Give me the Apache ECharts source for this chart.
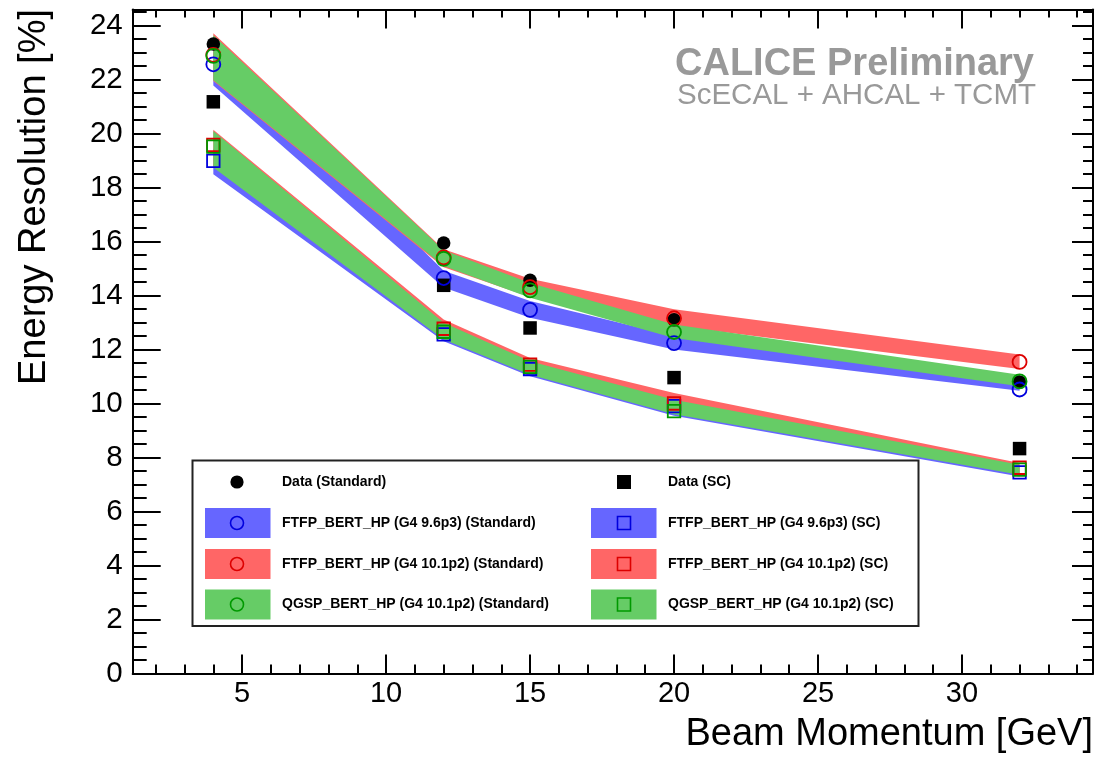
<!DOCTYPE html>
<html>
<head>
<meta charset="utf-8">
<script src="https://cdn.jsdelivr.net/npm/echarts@6/dist/echarts.min.js"></script>
<style>
  html, body { margin: 0; padding: 0; background: #fff; }
  #chart { width: 1101px; height: 757px; }
</style>
</head>
<body>
<div id="chart"></div>
<script>
// Beam momenta [GeV]
const energies = [4, 12, 15, 20, 32];

// Measured energy resolution [%]
const dataStd = [23.32, 15.95, 14.57, 13.10, 10.80];
const dataSC  = [21.18, 14.38, 12.80, 10.96, 8.33];

// Simulation central values, standard reconstruction
const ftfp96Std  = [22.57, 14.65, 13.47, 12.24, 10.52];
const ftfp101Std = [22.92, 15.41, 14.31, 13.16, 11.54];
const qgspStd    = [22.88, 15.36, 14.19, 12.65, 10.82];

// Simulation central values, software compensation
const ftfp96SC  = [18.99, 12.56, 11.28, 9.90, 7.45];
const ftfp101SC = [19.58, 12.77, 11.44, 10.00, 7.62];
const qgspSC    = [19.52, 12.66, 11.36, 9.72, 7.55];

// Systematic bands (lower / upper edge), standard reconstruction
const ftfp96StdLo  = [21.78, 14.30, 13.18, 12.00, 10.47];
const ftfp96StdHi  = [23.35, 14.92, 13.80, 12.50, 10.92];
const ftfp101StdLo = [21.95, 15.05, 13.95, 12.87, 11.28];
const ftfp101StdHi = [23.72, 15.72, 14.62, 13.49, 11.82];
const qgspStdLo    = [21.98, 15.10, 13.92, 12.43, 10.64];
const qgspStdHi    = [23.65, 15.68, 14.47, 12.93, 11.07];

// Systematic bands (lower / upper edge), software compensation
const ftfp96SCLo  = [18.50, 12.31, 11.01, 9.55, 7.30];
const ftfp96SCHi  = [19.45, 12.90, 11.50, 10.05, 7.70];
const ftfp101SCLo = [18.80, 12.45, 11.10, 9.75, 7.40];
const ftfp101SCHi = [20.14, 13.11, 11.69, 10.39, 7.80];
const qgspSCLo    = [18.75, 12.37, 11.07, 9.60, 7.36];
const qgspSCHi    = [20.10, 12.99, 11.57, 10.14, 7.73];

// Axis ticks
const xMajor = [5, 10, 15, 20, 25, 30];
const xMinor = [2, 3, 4, 6, 7, 8, 9, 11, 12, 13, 14, 16, 17, 18, 19, 21, 22, 23, 24, 26, 27, 28, 29, 31, 32, 33, 34];
const yMajor = [0, 2, 4, 6, 8, 10, 12, 14, 16, 18, 20, 22, 24];
const yMinor = [];
for (let v = 0.5; v < 24.6; v += 0.5) { if (v % 2 !== 0) yMinor.push(v); }

const X_MIN = 1.2, X_MAX = 34.55, Y_MIN = 0, Y_MAX = 24.6;

const FONT = '"Liberation Sans", Arial, Helvetica, sans-serif';

const BLUE_FILL = 'rgb(102,102,255)';
const RED_FILL = 'rgb(255,102,102)';
const GREEN_FILL = 'rgb(102,204,102)';
const BLUE_LINE = '#0000dd';
const RED_LINE = '#dd0000';
const GREEN_LINE = '#009900';

const names = {
  dataStd: 'Data (Standard)',
  dataSC: 'Data (SC)',
  f96Std: 'FTFP_BERT_HP (G4 9.6p3) (Standard)',
  f101Std: 'FTFP_BERT_HP (G4 10.1p2) (Standard)',
  qStd: 'QGSP_BERT_HP (G4 10.1p2) (Standard)',
  f96SC: 'FTFP_BERT_HP (G4 9.6p3) (SC)',
  f101SC: 'FTFP_BERT_HP (G4 10.1p2) (SC)',
  qSC: 'QGSP_BERT_HP (G4 10.1p2) (SC)'
};

// Filled band between lower and upper edge, built through the axis scales
function band(name, lo, hi, fill) {
  const n = energies.length;
  const xs = [], ys = [];
  for (let i = 0; i < n; i++) xs.push(i);
  for (let i = n; i < 3 * n; i++) ys.push(i);
  return {
    type: 'custom',
    name: name + ' band',
    silent: true,
    encode: { x: xs, y: ys },
    data: [{ value: energies.concat(lo, hi) }],
    renderItem: function (params, api) {
      const top = [], bottom = [];
      for (let i = 0; i < n; i++) {
        const x = api.value(i);
        bottom.push(api.coord([x, api.value(n + i)]));
        top.push(api.coord([x, api.value(2 * n + i)]));
      }
      return {
        type: 'polygon',
        shape: { points: top.concat(bottom.reverse()) },
        style: { fill: fill, stroke: null }
      };
    }
  };
}

function markers(name, values, symbol, size, color, border) {
  return {
    type: 'scatter',
    name: name,
    symbol: symbol,
    symbolSize: size,
    data: energies.map((e, i) => [e, values[i]]),
    itemStyle: border
      ? { color: 'rgba(0,0,0,0)', borderColor: color, borderWidth: 1.8, opacity: 1 }
      : { color: color, opacity: 1 },
    emphasis: { disabled: true }
  };
}

function xAxisDef(position, ticks, len, showLine, showLabel) {
  return {
    type: 'value', min: X_MIN, max: X_MAX, position: position,
    axisLine: { show: showLine, onZero: false, lineStyle: { color: '#000', width: 2 } },
    axisTick: { show: true, inside: true, length: len, customValues: ticks, lineStyle: { color: '#000', width: 2 } },
    axisLabel: { show: showLabel, customValues: ticks, color: '#000', fontSize: 29, fontFamily: FONT, margin: 6 },
    splitLine: { show: false }
  };
}
function yAxisDef(position, ticks, len, showLine, showLabel) {
  return {
    type: 'value', min: Y_MIN, max: Y_MAX, position: position,
    axisLine: { show: showLine, onZero: false, lineStyle: { color: '#000', width: 2 } },
    axisTick: { show: true, inside: true, length: len, customValues: ticks, lineStyle: { color: '#000', width: 2 } },
    axisLabel: { show: showLabel, customValues: ticks, color: '#000', fontSize: 29.5, fontFamily: FONT, margin: 10 },
    splitLine: { show: false }
  };
}

// Legend drawn as a two-column box
const legendRows = [482, 523, 564, 604.5];
const legendCols = [
  { sym: 237, swatch: 205, text: 282 },
  { sym: 624, swatch: 591, text: 668 }
];
const legendEntries = [
  [
    { label: names.dataStd, kind: 'dot' },
    { label: names.f96Std, kind: 'circle', fill: BLUE_FILL, line: BLUE_LINE },
    { label: names.f101Std, kind: 'circle', fill: RED_FILL, line: RED_LINE },
    { label: names.qStd, kind: 'circle', fill: GREEN_FILL, line: GREEN_LINE }
  ],
  [
    { label: names.dataSC, kind: 'block' },
    { label: names.f96SC, kind: 'square', fill: BLUE_FILL, line: BLUE_LINE },
    { label: names.f101SC, kind: 'square', fill: RED_FILL, line: RED_LINE },
    { label: names.qSC, kind: 'square', fill: GREEN_FILL, line: GREEN_LINE }
  ]
];

const graphics = [
  {
    type: 'rect', z: 100,
    shape: { x: 192.5, y: 460.5, width: 726, height: 165.5 },
    style: { fill: '#fff', stroke: '#222', lineWidth: 2 }
  }
];
legendEntries.forEach((col, c) => {
  const L = legendCols[c];
  col.forEach((e, r) => {
    const cy = legendRows[r];
    if (e.fill) {
      graphics.push({ type: 'rect', z: 101, shape: { x: L.swatch, y: cy - 15, width: 65.5, height: 30 }, style: { fill: e.fill } });
    }
    if (e.kind === 'dot') {
      graphics.push({ type: 'circle', z: 102, shape: { cx: L.sym, cy: cy, r: 6.6 }, style: { fill: '#000' } });
    } else if (e.kind === 'block') {
      graphics.push({ type: 'rect', z: 102, shape: { x: L.sym - 7, y: cy - 7, width: 14, height: 14 }, style: { fill: '#000' } });
    } else if (e.kind === 'circle') {
      graphics.push({ type: 'circle', z: 102, shape: { cx: L.sym, cy: cy, r: 6.5 }, style: { fill: 'none', stroke: e.line, lineWidth: 1.6 } });
    } else {
      graphics.push({ type: 'rect', z: 102, shape: { x: L.sym - 6.5, y: cy - 6.5, width: 13, height: 13 }, style: { fill: 'none', stroke: e.line, lineWidth: 1.6 } });
    }
    graphics.push({
      type: 'text', z: 102, x: L.text, y: cy,
      style: { text: e.label, font: 'bold 14px ' + FONT, fill: '#000', textAlign: 'left', textVerticalAlign: 'middle', align: 'left', verticalAlign: 'middle' }
    });
  });
});

// Axis titles and labels
graphics.push({
  type: 'text', z: 50, x: 35, y: 9, rotation: Math.PI / 2,
  style: { text: 'Energy Resolution [%]', font: '38px ' + FONT, fill: '#000', textAlign: 'right', textVerticalAlign: 'middle', align: 'right', verticalAlign: 'middle' }
});
graphics.push({
  type: 'text', z: 50, x: 1093, y: 735,
  style: { text: 'Beam Momentum [GeV]', font: '38px ' + FONT, fill: '#000', textAlign: 'right', textVerticalAlign: 'middle', align: 'right', verticalAlign: 'middle' }
});
graphics.push({
  type: 'text', z: 50, x: 675, y: 65,
  style: { text: 'CALICE Preliminary', font: 'bold 38px ' + FONT, fill: '#999999', textAlign: 'left', textVerticalAlign: 'middle', align: 'left', verticalAlign: 'middle' }
});
graphics.push({
  type: 'text', z: 50, x: 677, y: 96,
  style: { text: 'ScECAL + AHCAL + TCMT', font: '29.5px ' + FONT, fill: '#999999', textAlign: 'left', textVerticalAlign: 'middle', align: 'left', verticalAlign: 'middle' }
});

const chart = echarts.init(document.getElementById('chart'), null, { renderer: 'canvas' });
chart.setOption({
  animation: false,
  backgroundColor: '#fff',
  grid: { left: 132.7, right: 8, top: 9.5, bottom: 83.6, containLabel: false },
  xAxis: [
    xAxisDef('bottom', xMajor, 19, true, true),
    xAxisDef('bottom', xMinor, 9, false, false),
    xAxisDef('top', xMajor, 19, true, false),
    xAxisDef('top', xMinor, 8, false, false)
  ],
  yAxis: [
    yAxisDef('left', yMajor, 28, true, true),
    yAxisDef('left', yMinor, 14, false, false),
    yAxisDef('right', yMajor, 21, true, false),
    yAxisDef('right', yMinor, 10, false, false)
  ],
  series: [
    band(names.f96Std, ftfp96StdLo, ftfp96StdHi, BLUE_FILL),
    band(names.f101Std, ftfp101StdLo, ftfp101StdHi, RED_FILL),
    band(names.qStd, qgspStdLo, qgspStdHi, GREEN_FILL),
    band(names.f96SC, ftfp96SCLo, ftfp96SCHi, BLUE_FILL),
    band(names.f101SC, ftfp101SCLo, ftfp101SCHi, RED_FILL),
    band(names.qSC, qgspSCLo, qgspSCHi, GREEN_FILL),
    markers(names.dataStd, dataStd, 'circle', 13.5, '#000', false),
    markers(names.dataSC, dataSC, 'rect', 13.5, '#000', false),
    markers(names.f96Std, ftfp96Std, 'circle', 14, BLUE_LINE, true),
    markers(names.f101Std, ftfp101Std, 'circle', 14, RED_LINE, true),
    markers(names.qStd, qgspStd, 'circle', 14, GREEN_LINE, true),
    markers(names.f96SC, ftfp96SC, 'rect', 12.5, BLUE_LINE, true),
    markers(names.f101SC, ftfp101SC, 'rect', 12.5, RED_LINE, true),
    markers(names.qSC, qgspSC, 'rect', 12.5, GREEN_LINE, true)
  ],
  graphic: { elements: graphics }
});
</script>
</body>
</html>
